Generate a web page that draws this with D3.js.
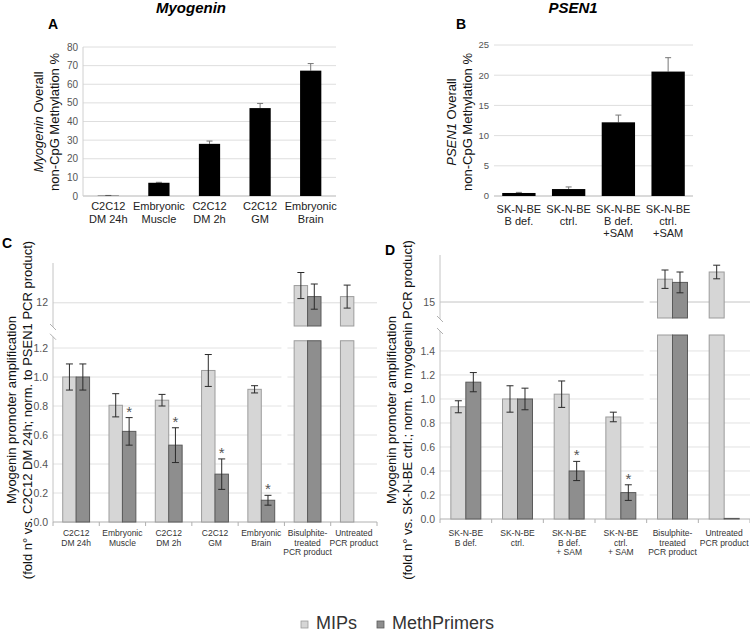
<!DOCTYPE html>
<html><head><meta charset="utf-8">
<script src="https://cdn.jsdelivr.net/npm/d3@7"></script>
<style>body{margin:0;background:#fff} text{font-family:"Liberation Sans",Arial,sans-serif}</style>
</head><body><svg id="c" width="750" height="634"></svg>
<script>
// ---------- Panel A (Myogenin) ----------
const catsA = ["C2C12\nDM 24h","Embryonic\nMuscle","C2C12\nDM 2h","C2C12\nGM","Embryonic\nBrain"];
const valsA = [0.15, 7.1, 28, 47.2, 67.3];
const errsA = [0.15, 0.25, 1.5, 2.5, 3.8];
const ticksA = [0,10,20,30,40,50,60,70,80];
// ---------- Panel B (PSEN1) ----------
const catsB = ["SK-N-BE\nB def.","SK-N-BE\nctrl.","SK-N-BE\nB def.\n+SAM","SK-N-BE\nctrl.\n+SAM"];
const valsB = [0.5, 1.15, 12.2, 20.6];
const errsB = [0.1, 0.35, 1.2, 2.3];
const ticksB = [0,5,10,15,20,25];
// ---------- Panel C ----------
const catsC = ["C2C12\nDM 24h","Embryonic\nMuscle","C2C12\nDM 2h","C2C12\nGM","Embryonic\nBrain","Bisulphite-\ntreated\nPCR product","Untreated\nPCR product"];
const mipsC = [1.0, 0.805, 0.84, 1.045, 0.915, 12.78, 12.28];
const mipsErrC = [0.09, 0.08, 0.04, 0.11, 0.025, 0.59, 0.52];
const methC = [1.0, 0.625, 0.53, 0.33, 0.15, 12.28, 0];
const methErrC = [0.09, 0.095, 0.12, 0.105, 0.034, 0.57, 0];
const sigC = [0,1,1,1,1,0,0];
const ticksCLow = [0,0.2,0.4,0.6,0.8,1.0,1.2];
const ticksCUp = [12];
// ---------- Panel D ----------
const catsD = ["SK-N-BE\nB def.","SK-N-BE\nctrl.","SK-N-BE\nB def.\n+ SAM","SK-N-BE\nctrl.\n+ SAM","Bisulphite-\ntreated\nPCR product","Untreated\nPCR product"];
const mipsD = [0.935, 1.0, 1.04, 0.85, 17.85, 18.75];
const mipsErrD = [0.05, 0.11, 0.11, 0.04, 1.15, 0.85];
const methD = [1.14, 1.0, 0.40, 0.22, 17.45, 0.005];
const methErrD = [0.08, 0.09, 0.08, 0.065, 1.3, 0];
const sigD = [0,0,1,1,0,0];
const ticksDLow = [0,0.2,0.4,0.6,0.8,1.0,1.2,1.4];
const ticksDUp = [15];
const seriesNames = ["MIPs","MethPrimers"];

const svg = d3.select("#c");
const COL = {mips:"#d6d6d6", mipsS:"#9c9c9c", meth:"#8e8e8e", methS:"#5a5a5a"};

function multiLabel(g, x, y0, dy, str, size, fill){
  const t = g.append("text").attr("x", x).attr("y", y0).attr("text-anchor","middle")
    .attr("font-size", size).attr("fill", fill);
  str.split("\n").forEach((s,i)=>t.append("tspan").attr("x", x).attr("y", y0 + i*dy).text(s));
}

function simplePanel(cfg, cats, vals, errs, ticks){
  const g = svg.append("g");
  const x = d3.scaleBand().domain(cats).range([cfg.x0, cfg.x1]).paddingInner(cfg.p).paddingOuter(cfg.p/2);
  const y = d3.scaleLinear().domain([0, ticks[ticks.length-1]]).range([cfg.y0, cfg.yTop]);
  ticks.forEach(t=>{
    g.append("line").attr("x1", cfg.x0).attr("x2", cfg.x1).attr("y1", y(t)).attr("y2", y(t))
      .attr("stroke", t===0 ? "#b5b5b5" : "#dedede").attr("stroke-width",1);
    g.append("text").attr("x", cfg.x0-5).attr("y", y(t)).attr("dy","0.35em").attr("text-anchor","end")
      .attr("font-size", cfg.tickFont).attr("fill","#555").text(t);
  });
  if (cfg.vaxis) g.append("line").attr("x1",cfg.x0).attr("x2",cfg.x0).attr("y1",cfg.yTop).attr("y2",cfg.y0).attr("stroke","#d0d0d0");
  cats.forEach((c,i)=>{
    const cx = x(c) + x.bandwidth()/2;
    g.append("line").attr("x1",cx).attr("x2",cx).attr("y1",y(vals[i])).attr("y2",y(vals[i]+errs[i])).attr("stroke","#777");
    g.append("line").attr("x1",cx-3).attr("x2",cx+3).attr("y1",y(vals[i]+errs[i])).attr("y2",y(vals[i]+errs[i])).attr("stroke","#777");
    g.append("rect").attr("x", x(c)).attr("width", x.bandwidth()).attr("y", y(vals[i])).attr("height", cfg.y0 - y(vals[i])).attr("fill","#000");
    multiLabel(g, cx, cfg.labY, cfg.labDy, c, cfg.labFont, "#222");
  });
}

simplePanel({x0:83, x1:336, p:0.58, y0:196, yTop:47, tickFont:10, vaxis:true, labY:210, labDy:13, labFont:11}, catsA, valsA, errsA, ticksA);
simplePanel({x0:494, x1:693, p:0.33, y0:196, yTop:45, tickFont:9.5, vaxis:false, labY:213, labDy:12, labFont:11}, catsB, valsB, errsB, ticksB);

function brokenPanel(cfg, cats, mips, mipsErr, meth, methErr, sig, lowTicks, upTicks){
  const g = svg.append("g");
  const x = d3.scaleBand().domain(cats).range([cfg.x0, cfg.x1]).padding(0);
  const x1 = d3.scaleBand().domain(seriesNames).range([0, x.bandwidth()]).paddingInner(0).paddingOuter(0.724);
  const yLow = d3.scaleLinear().domain([0, cfg.lowMax]).range([cfg.yZero, cfg.yLowTop]);
  const yUp = d3.scaleLinear().domain(cfg.upDomain).range([cfg.yUpBottom, cfg.yUpTop]);
  const xs = x(cats[cfg.split]);
  const segs = [[cfg.x0, xs-3],[xs+3, cfg.x1]];
  segs.forEach(s=>{
    lowTicks.filter(t=>t>0).forEach(t=>g.append("line").attr("x1",s[0]).attr("x2",s[1]).attr("y1",yLow(t)).attr("y2",yLow(t)).attr("stroke","#e2e2e2"));
    upTicks.forEach(t=>g.append("line").attr("x1",s[0]).attr("x2",s[1]).attr("y1",yUp(t)).attr("y2",yUp(t)).attr("stroke",cfg.upGrid));
  });
  lowTicks.forEach(t=>g.append("text").attr("x",cfg.x0-5).attr("y",yLow(t)).attr("dy","0.35em").attr("text-anchor","end")
    .attr("font-size",cfg.tickFont).attr("fill","#555").text(d3.format(".1f")(t)));
  upTicks.forEach(t=>g.append("text").attr("x",cfg.x0-5).attr("y",yUp(t)).attr("dy","0.35em").attr("text-anchor","end")
    .attr("font-size",cfg.tickFont).attr("fill","#555").text(t));
  // vertical axis with break marks
  g.append("line").attr("x1",cfg.x0).attr("x2",cfg.x0).attr("y1",cfg.yUpTop).attr("y2",cfg.yUpBottom+1).attr("stroke","#c4c4c4");
  g.append("line").attr("x1",cfg.x0).attr("x2",cfg.x0).attr("y1",cfg.yLowTop-4).attr("y2",cfg.yZero).attr("stroke","#c4c4c4");
  [cfg.yUpBottom+1, cfg.yLowTop-4].forEach(yy=>g.append("line").attr("x1",cfg.x0-3).attr("x2",cfg.x0+3).attr("y1",yy-3).attr("y2",yy+3).attr("stroke","#b0b0b0"));
  // baseline + ticks
  g.append("line").attr("x1",cfg.x0).attr("x2",cfg.x1).attr("y1",cfg.yZero).attr("y2",cfg.yZero).attr("stroke","#b0b0b0");
  cats.concat([null]).forEach(c=>{
    const xx = c===null ? cfg.x1 : x(c);
    g.append("line").attr("x1",xx).attr("x2",xx).attr("y1",cfg.yZero).attr("y2",cfg.yZero+4).attr("stroke","#b0b0b0");
  });
  const ser = [
    {k:"MIPs", v:mips, e:mipsErr, f:COL.mips, s:COL.mipsS},
    {k:"MethPrimers", v:meth, e:methErr, f:COL.meth, s:COL.methS}];
  ser.forEach(S=>{
    cats.forEach((c,i)=>{
      const v = S.v[i], e = S.e[i];
      if (v <= 0) return;
      const bx = x(c) + x1(S.k), bw = x1.bandwidth();
      if (v > cfg.lowMax){
        g.append("rect").attr("x",bx).attr("width",bw).attr("y",yLow(cfg.lowMax)).attr("height",cfg.yZero-yLow(cfg.lowMax)).attr("fill",S.f).attr("stroke",S.s);
        g.append("rect").attr("x",bx).attr("width",bw).attr("y",yUp(v)).attr("height",cfg.yUpBottom-yUp(v)).attr("fill",S.f).attr("stroke",S.s);
      } else {
        g.append("rect").attr("x",bx).attr("width",bw).attr("y",yLow(v)).attr("height",Math.max(0.5,cfg.yZero-yLow(v))).attr("fill",S.f).attr("stroke",S.s);
      }
      if (e > 0){
        const sc = v > cfg.lowMax ? yUp : yLow, cx = bx + bw/2;
        g.append("line").attr("x1",cx).attr("x2",cx).attr("y1",sc(v-e)).attr("y2",sc(v+e)).attr("stroke","#2a2a2a");
        [v-e, v+e].forEach(w=>g.append("line").attr("x1",cx-3.5).attr("x2",cx+3.5).attr("y1",sc(w)).attr("y2",sc(w)).attr("stroke","#2a2a2a"));
      }
      if (S.k==="MethPrimers" && sig[i]){
        g.append("text").attr("x",bx+bw/2).attr("y",yLow(v+e)-1).attr("text-anchor","middle")
          .attr("font-size",15).attr("fill","#555").text("*");
      }
    });
  });
  cats.forEach(c=>multiLabel(g, x(c)+x.bandwidth()/2, cfg.labY, cfg.labDy, c, cfg.labFont, "#333"));
}

brokenPanel({x0:53, x1:377, split:5, lowMax:1.25, yZero:522, yLowTop:340.75, upDomain:[10.95,13.8], yUpBottom:326, yUpTop:263,
  upGrid:"#dcdcdc", tickFont:10.5, labY:536, labDy:9.7, labFont:8.5}, catsC, mipsC, mipsErrC, methC, methErrC, sigC, ticksCLow, ticksCUp);
brokenPanel({x0:440, x1:750, split:4, lowMax:1.533, yZero:519, yLowTop:335, upDomain:[13,20.875], yUpBottom:318, yUpTop:255,
  upGrid:"#c4c4c4", tickFont:10.5, labY:536, labDy:9.7, labFont:8.5}, catsD, mipsD, mipsErrD, methD, methErrD, sigD, ticksDLow, ticksDUp);

// ---------- Titles, panel letters, axis titles ----------
function t(x,y,txt,size,opts={}){
  const e = svg.append("text").attr("x",x).attr("y",y).attr("font-size",size).attr("fill",opts.fill||"#000")
    .attr("text-anchor",opts.anchor||"start").text(txt);
  if (opts.bold) e.attr("font-weight","bold");
  if (opts.italic) e.attr("font-style","italic");
  return e;
}
t(191,13,"Myogenin",15,{bold:true,italic:true,anchor:"middle"});
t(573,13,"PSEN1",15,{bold:true,italic:true,anchor:"middle"});
t(48,29,"A",14,{bold:true});
t(456,29,"B",14,{bold:true});
t(2,248,"C",14,{bold:true});
t(385,255,"D",14,{bold:true});

function rotTitle(x, y, parts, size){
  const e = svg.append("text").attr("transform",`translate(${x},${y}) rotate(-90)`).attr("text-anchor","middle")
    .attr("dominant-baseline","central").attr("font-size",size).attr("fill","#111");
  parts.forEach(p=>{ const s = e.append("tspan").text(p[0]); if (p[1]) s.attr("font-style","italic"); });
}
rotTitle(38,122,[["Myogenin",1],[" Overall"]],13);
rotTitle(54,122,[["non-CpG Methylation %"]],13);
rotTitle(451,122,[["PSEN1",1],[" Overall"]],13);
rotTitle(467,122,[["non-CpG Methylation %"]],13);
rotTitle(11,410,[["Myogenin promoter amplification"]],13);
rotTitle(27,410,[["(fold n° vs. C2C12 DM 24h; norm. to PSEN1 PCR product)"]],13);
rotTitle(391,410,[["Myogenin promoter amplification"]],13);
rotTitle(407,410,[["(fold n° vs. SK-N-BE ctrl.; norm. to myogenin PCR product)"]],13);

// ---------- Legend ----------
const leg = svg.append("g");
[{n:seriesNames[0], f:COL.mips, s:COL.mipsS, x:301}, {n:seriesNames[1], f:COL.meth, s:COL.methS, x:377}].forEach(L=>{
  leg.append("rect").attr("x",L.x).attr("y",621).attr("width",7).attr("height",7).attr("fill",L.f).attr("stroke",L.s).attr("stroke-width",0.8);
  leg.append("text").attr("x",L.x+15).attr("y",629).attr("font-size",18).attr("fill","#333").text(L.n);
});
</script></body></html>
